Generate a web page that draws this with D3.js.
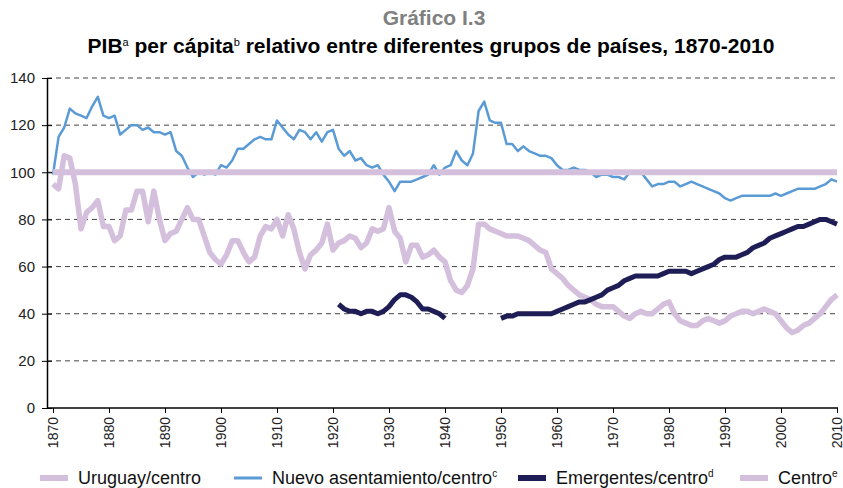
<!DOCTYPE html>
<html>
<head>
    <meta charset="utf-8" />
    <title>PIB per cápita relativo</title>
    <style>
        body { margin: 0; background: #fff; }
        svg { display: block; font-family: "Liberation Sans", Arial, sans-serif; }
    </style>
</head>
<body>
<script src="https://cdn.jsdelivr.net/npm/d3@7/dist/d3.min.js"></script>
<script>

    // years on the category axis
    var firstYear = 1870;
    var lastYear = 2010;
    var years = d3.range(firstYear, lastYear + 1);
    var tickYears = [1870,1880,1890,1900,1910,1920,1930,1940,1950,1960,1970,1980,1990,2000,2010];
    var yTicks = [0,20,40,60,80,100,120,140];

    // Uruguay / centro, 1870-2010 (one row per decade)
    var uruguay = [
        95,93,107,106,95,76,83,85,88,77,
        77,71,73,84,84,92,92,79,92,80,
        71,74,75,80,85,80,80,73,66,63,
        61,65,71,71,66,62,64,73,77,76,
        80,73,82,76,66,59,65,67,70,78,
        67,70,71,73,72,68,70,76,75,76,
        85,75,72,62,69,69,64,65,67,64,
        62,54,50,49,52,59,78,78,76,75,
        74,73,73,73,72,71,69,67,66,59,
        57,55,52,50,48,47,46,44,43,43,
        43,41,39,38,40,41,40,40,42,44,
        45,40,37,36,35,35,37,38,37,36,
        37,39,40,41,41,40,41,42,41,40,
        37,34,32,33,35,36,38,40,43,46,
        48
    ];

    // Nuevo asentamiento / centro, 1870-2010
    var nuevo = [
        99,115,119,127,125,124,123,128,132,124,
        123,124,116,118,120,120,118,119,117,117,
        116,117,109,107,102,98,100,99,100,99,
        103,102,105,110,110,112,114,115,114,114,
        122,119,116,114,118,117,114,117,113,117,
        118,110,107,109,105,106,103,102,103,99,
        96,92,96,96,96,97,98,99,103,99,
        102,103,109,105,103,108,126,130,122,121,
        121,112,112,109,111,109,108,107,107,106,
        103,101,101,102,101,101,100,98,99,99,
        98,98,97,100,100,100,97,94,95,95,
        96,96,94,95,96,95,94,93,92,91,
        89,88,89,90,90,90,90,90,90,91,
        90,91,92,93,93,93,93,94,95,97,
        96
    ];

    // Emergentes / centro, two stretches of data
    var emergentesStart1 = 1921;
    var emergentes1 = [
        44,42,41,41,40,41,41,40,41,
        43,46,48,48,47,45,42,42,41,40,
        38
    ];
    var emergentesStart2 = 1950;
    var emergentes2 = [
        38,39,39,40,40,40,40,40,40,40,
        41,42,43,44,45,45,46,47,48,50,
        51,52,54,55,56,56,56,56,56,57,
        58,58,58,58,57,58,59,60,61,63,
        64,64,64,65,66,68,69,70,72,73,
        74,75,76,77,77,78,79,80,80,79,
        78
    ];

    // Centro = 100
    var centro = [
        100,100,100,100,100,100,100,100,100,100,
        100,100,100,100,100,100,100,100,100,100,
        100,100,100,100,100,100,100,100,100,100,
        100,100,100,100,100,100,100,100,100,100,
        100,100,100,100,100,100,100,100,100,100,
        100,100,100,100,100,100,100,100,100,100,
        100,100,100,100,100,100,100,100,100,100,
        100,100,100,100,100,100,100,100,100,100,
        100,100,100,100,100,100,100,100,100,100,
        100,100,100,100,100,100,100,100,100,100,
        100,100,100,100,100,100,100,100,100,100,
        100,100,100,100,100,100,100,100,100,100,
        100,100,100,100,100,100,100,100,100,100,
        100,100,100,100,100,100,100,100,100,100,
        100
    ];

    var colors = {
        "uruguay": "#d4c0dd",
        "nuevo": "#5b9bd5",
        "emergentes": "#1f1d55",
        "centro": "#d4c0dd"
    };

    var width = 843;
    var height = 488;
    var plot = {"left": 47, "right": 838, "top": 78, "bottom": 408};

    var svg = d3.select("body").append("svg")
                .attr("width", width)
                .attr("height", height);

    var xScaler = d3.scaleLinear()
                    .domain([firstYear, lastYear])
                    .range([53, 837]);

    var yScaler = d3.scaleLinear()
                    .domain([0, 140])
                    .range([plot.bottom, plot.top]);

    // titles
    svg.append("text")
       .attr("x", 434)
       .attr("y", 25)
       .attr("text-anchor", "middle")
       .attr("font-size", 21)
       .attr("font-weight", "bold")
       .attr("fill", "#808080")
       .text("Gráfico I.3");

    var title = svg.append("text")
                   .attr("x", 431)
                   .attr("y", 53)
                   .attr("text-anchor", "middle")
                   .attr("font-size", 21)
                   .attr("font-weight", "bold")
                   .attr("fill", "#000");
    title.append("tspan").text("PIB");
    title.append("tspan").attr("font-size", 11).attr("font-weight", "normal").attr("dy", -7).text("a");
    title.append("tspan").attr("dy", 7).text(" per cápita");
    title.append("tspan").attr("font-size", 11).attr("font-weight", "normal").attr("dy", -7).text("b");
    title.append("tspan").attr("dy", 7).text(" relativo entre diferentes grupos de países, 1870-2010");

    // dashed gridlines
    svg.append("g")
       .selectAll("line")
       .data(yTicks.filter(d => d > 0))
       .enter()
       .append("line")
       .attr("x1", plot.left)
       .attr("x2", plot.right)
       .attr("y1", d => yScaler(d))
       .attr("y2", d => yScaler(d))
       .attr("stroke", "#444")
       .attr("stroke-width", 1)
       .attr("stroke-dasharray", "5,4");

    // y axis
    var yAxis = d3.axisLeft(yScaler)
                  .tickValues(yTicks)
                  .tickSizeInner(5)
                  .tickSizeOuter(0)
                  .tickPadding(7);

    var yAxisView = svg.append("g")
                       .attr("transform", "translate(" + plot.left + ",0)")
                       .call(yAxis);
    yAxisView.select(".domain").attr("stroke", "#000").attr("stroke-width", 1.5);
    yAxisView.selectAll(".tick line")
             .attr("x1", 5)
             .attr("x2", -5)
             .attr("stroke", "#000");
    yAxisView.selectAll(".tick text")
             .attr("font-size", 15)
             .attr("font-family", "Liberation Sans, Arial, sans-serif")
             .attr("fill", "#222");

    // x axis
    svg.append("line")
       .attr("x1", plot.left)
       .attr("x2", plot.right)
       .attr("y1", plot.bottom)
       .attr("y2", plot.bottom)
       .attr("stroke", "#000")
       .attr("stroke-width", 1.5);

    var xAxis = d3.axisBottom(xScaler)
                  .tickValues(tickYears)
                  .tickFormat(d3.format("d"))
                  .tickSizeInner(5)
                  .tickSizeOuter(0);

    var xAxisView = svg.append("g")
                       .attr("transform", "translate(0," + plot.bottom + ")")
                       .call(xAxis);
    xAxisView.select(".domain").remove();
    xAxisView.selectAll(".tick line").attr("stroke", "#000");
    xAxisView.selectAll(".tick text")
             .attr("font-size", 14)
             .attr("font-family", "Liberation Sans, Arial, sans-serif")
             .attr("fill", "#222")
             .attr("text-anchor", "end")
             .attr("transform", "rotate(-90)")
             .attr("x", -9)
             .attr("y", 0)
             .attr("dy", "0.35em");

    // series
    var line = d3.line()
                 .x(d => xScaler(d.year))
                 .y(d => yScaler(d.value));

    function toPoints(startYear, values){
        return values.map((v, i) => ({"year": startYear + i, "value": v}));
    }

    var lines = svg.append("g")
                   .attr("fill", "none")
                   .attr("stroke-linejoin", "round");

    lines.append("path")
         .attr("d", line(toPoints(firstYear, uruguay)))
         .attr("stroke", colors.uruguay)
         .attr("stroke-width", 5.5);

    lines.append("path")
         .attr("d", line(toPoints(firstYear, nuevo)))
         .attr("stroke", colors.nuevo)
         .attr("stroke-width", 2.5);

    lines.append("path")
         .attr("d", line(toPoints(emergentesStart1, emergentes1)))
         .attr("stroke", colors.emergentes)
         .attr("stroke-width", 5);

    lines.append("path")
         .attr("d", line(toPoints(emergentesStart2, emergentes2)))
         .attr("stroke", colors.emergentes)
         .attr("stroke-width", 5);

    lines.append("path")
         .attr("d", line(toPoints(firstYear, centro)))
         .attr("stroke", colors.centro)
         .attr("stroke-width", 6);

    // legend
    var legendItems = [
        {"name": "Uruguay/centro", "sup": "", "color": colors.uruguay, "w": 6, "x": 40},
        {"name": "Nuevo asentamiento/centro", "sup": "c", "color": colors.nuevo, "w": 3, "x": 234},
        {"name": "Emergentes/centro", "sup": "d", "color": colors.emergentes, "w": 6, "x": 518},
        {"name": "Centro", "sup": "e", "color": colors.centro, "w": 6, "x": 740}
    ];

    var legendY = 478;

    var legend = svg.append("g")
                    .selectAll("g")
                    .data(legendItems)
                    .enter()
                    .append("g")
                    .attr("transform", d => "translate(" + d.x + "," + legendY + ")");

    legend.append("line")
          .attr("x1", 0)
          .attr("x2", 28)
          .attr("y1", 0)
          .attr("y2", 0)
          .attr("stroke", d => d.color)
          .attr("stroke-width", d => d.w);

    var legendText = legend.append("text")
                           .attr("x", 38)
                           .attr("y", 0)
                           .attr("dy", "0.35em")
                           .attr("font-size", 18)
                           .attr("fill", "#111");
    legendText.append("tspan").text(d => d.name);
    legendText.append("tspan")
              .attr("font-size", 10)
              .attr("dy", -7)
              .text(d => d.sup);

</script>
</body>
</html>
